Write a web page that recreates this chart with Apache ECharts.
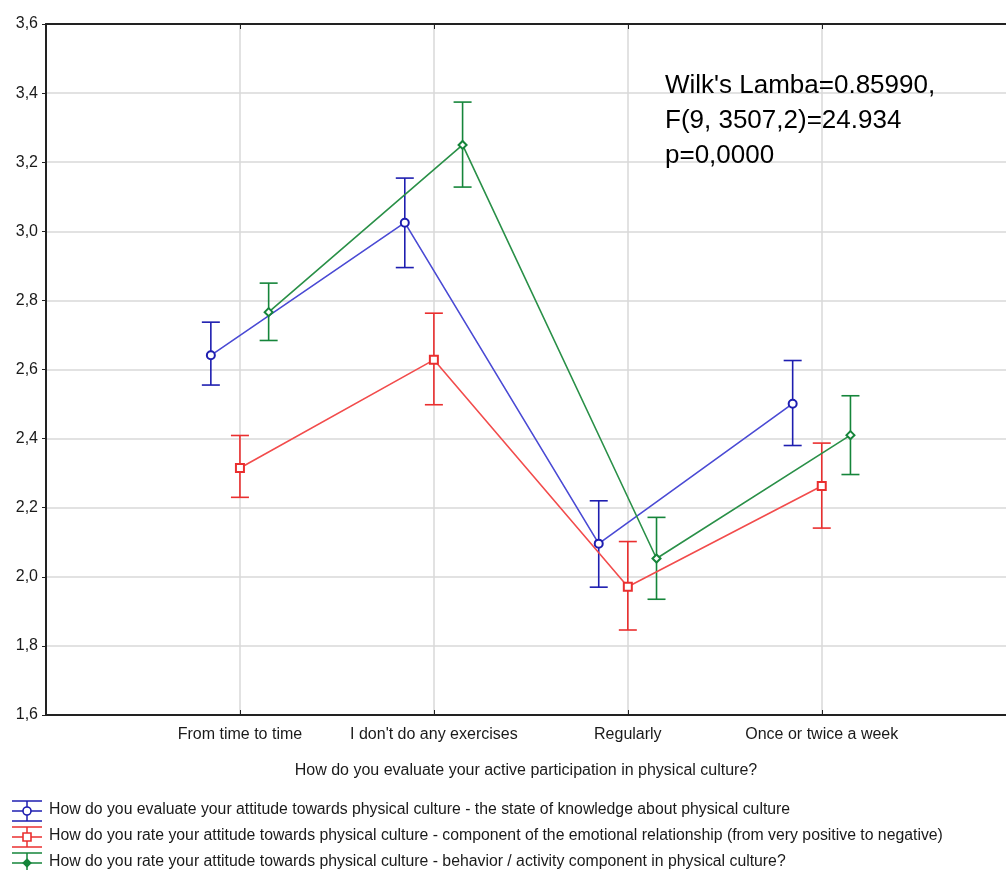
<!DOCTYPE html>
<html>
<head>
<meta charset="utf-8">
<script src="https://cdn.jsdelivr.net/npm/echarts@6/dist/echarts.min.js"></script>
<style>
html,body{margin:0;padding:0;background:#fff;}
#chart{width:1006px;height:870px;}
</style>
</head>
<body>
<div id="chart"></div>
<script>
const categories = ['From time to time', "I don't do any exercises", 'Regularly', 'Once or twice a week'];
const seriesNames = [
  'How do you evaluate your attitude towards physical culture - the state of knowledge about physical culture',
  'How do you rate your attitude towards physical culture - component of the emotional relationship (from very positive to negative)',
  'How do you rate your attitude towards physical culture - behavior / activity component in physical culture?'
];
const xAxisTitle = 'How do you evaluate your active participation in physical culture?';
const statsText = ["Wilk's Lamba=0.85990,", 'F(9, 3507,2)=24.934', 'p=0,0000'];

const knowledgeMean = [2.641, 3.025, 2.096, 2.501];
const knowledgeLow  = [2.555, 2.895, 1.970, 2.380];
const knowledgeHigh = [2.737, 3.154, 2.220, 2.626];

const emotionalMean = [2.315, 2.628, 1.971, 2.263];
const emotionalLow  = [2.230, 2.498, 1.846, 2.141];
const emotionalHigh = [2.409, 2.763, 2.102, 2.387];

const behaviorMean = [2.766, 3.250, 2.053, 2.410];
const behaviorLow  = [2.684, 3.128, 1.935, 2.296];
const behaviorHigh = [2.850, 3.374, 2.172, 2.524];

const yMin = 1.6, yMax = 3.6, yStep = 0.2;
const xMin = 0, xMax = 4.95;

const FONT = "'Liberation Sans', Arial, sans-serif";
const groups = [
  {name: seriesNames[0], mean: knowledgeMean, low: knowledgeLow, high: knowledgeHigh, off: -0.15,
   color: '#1e1eb0', lineColor: '#4a4ad4', symbol: 'emptyCircle', size: 8},
  {name: seriesNames[1], mean: emotionalMean, low: emotionalLow, high: emotionalHigh, off: 0,
   color: '#ea2f2f', lineColor: '#f24c4c', symbol: 'emptyRect', size: 8},
  {name: seriesNames[2], mean: behaviorMean, low: behaviorLow, high: behaviorHigh, off: 0.148,
   color: '#15853a', lineColor: '#2a9048', symbol: 'emptyDiamond', size: 8}
];

const series = [];
groups.forEach(g => {
  series.push({
    type: 'custom',
    name: g.name,
    data: categories.map((c, i) => [i + 1 + g.off, g.low[i], g.high[i]]),
    encode: {x: 0, y: [1, 2]},
    z: 3,
    renderItem: function (params, api) {
      const x = api.value(0);
      const pLo = api.coord([x, api.value(1)]);
      const pHi = api.coord([x, api.value(2)]);
      const w = 9;
      const st = {stroke: g.color, lineWidth: 1.6};
      return {type: 'group', children: [
        {type: 'line', shape: {x1: pLo[0], y1: pLo[1], x2: pHi[0], y2: pHi[1]}, style: st},
        {type: 'line', shape: {x1: pHi[0] - w, y1: pHi[1], x2: pHi[0] + w, y2: pHi[1]}, style: st},
        {type: 'line', shape: {x1: pLo[0] - w, y1: pLo[1], x2: pLo[0] + w, y2: pLo[1]}, style: st}
      ]};
    }
  });
  series.push({
    type: 'line',
    name: g.name,
    data: categories.map((c, i) => [i + 1 + g.off, g.mean[i]]),
    symbol: g.symbol,
    symbolSize: g.size,
    showAllSymbol: true,
    z: 4,
    lineStyle: {color: g.lineColor, width: 1.6},
    itemStyle: {color: g.color, borderColor: g.color, borderWidth: 1.6},
    emphasis: {disabled: true}
  });
});

// legend drawn as graphic rows
const legendGraphics = [];
groups.forEach((g, i) => {
  const yc = 811 + i * 26;
  const st = {stroke: g.color, lineWidth: 1.5};
  legendGraphics.push(
    {type: 'line', shape: {x1: 12, y1: yc - 10, x2: 42, y2: yc - 10}, style: st},
    {type: 'line', shape: {x1: 12, y1: yc, x2: 42, y2: yc}, style: st},
    {type: 'line', shape: {x1: 12, y1: yc + 10, x2: 42, y2: yc + 10}, style: st},
    {type: 'line', shape: {x1: 27, y1: yc - 10, x2: 27, y2: yc + 10}, style: st}
  );
  if (i === 0) {
    legendGraphics.push({type: 'circle', shape: {cx: 27, cy: yc, r: 4}, style: {fill: '#fff', stroke: g.color, lineWidth: 1.6}});
  } else if (i === 1) {
    legendGraphics.push({type: 'rect', shape: {x: 23, y: yc - 4, width: 8, height: 8}, style: {fill: '#fff', stroke: g.color, lineWidth: 1.6}});
  } else {
    legendGraphics.push({type: 'polygon', shape: {points: [[27, yc - 4], [31, yc], [27, yc + 4], [23, yc]]}, style: {fill: g.color, stroke: g.color, lineWidth: 1.2}});
  }
  legendGraphics.push({type: 'text', x: 49, y: yc - 1,
    style: {text: g.name, font: '15.8px ' + FONT, fill: '#1a1a1a', textVerticalAlign: 'middle'}});
});

const statsGraphics = statsText.map((t, i) => ({
  type: 'text', x: 665, y: 73 + i * 35, z: 10,
  style: {text: t, font: '26px ' + FONT, fill: '#000', textVerticalAlign: 'top'}
}));

const catFormatter = v => {
  const r = Math.round(v);
  return (Math.abs(v - r) < 1e-6 && r >= 1 && r <= categories.length) ? categories[r - 1] : '';
};

const chart = echarts.init(document.getElementById('chart'), null, {renderer: 'canvas'});
chart.setOption({
  animation: false,
  backgroundColor: '#ffffff',
  textStyle: {fontFamily: FONT},
  grid: {left: 46, top: 24, right: 0, height: 691, show: false},
  xAxis: [{
    type: 'value', min: xMin, max: xMax, interval: 1,
    axisLine: {lineStyle: {color: '#222', width: 2}},
    axisTick: {show: true, inside: true, length: 5, lineStyle: {color: '#222'}},
    splitLine: {show: true, showMaxLine: false, lineStyle: {color: '#d9d9d9', width: 1.5}},
    axisLabel: {
      fontSize: 16, color: '#1a1a1a', margin: 12, fontFamily: FONT,
      showMinLabel: true, showMaxLabel: false,
      formatter: catFormatter
    },
    name: xAxisTitle, nameLocation: 'middle', nameGap: 48,
    nameTextStyle: {fontSize: 16, color: '#1a1a1a', fontFamily: FONT}
  }, {
    type: 'value', position: 'top', min: xMin, max: xMax, interval: 1,
    axisLine: {show: true, lineStyle: {color: '#222', width: 2}},
    axisTick: {show: true, inside: true, length: 5, lineStyle: {color: '#222'}},
    splitLine: {show: false},
    axisLabel: {show: false}
  }],
  yAxis: {
    type: 'value', min: yMin, max: yMax, interval: yStep,
    axisLine: {show: true, lineStyle: {color: '#222', width: 2}},
    axisTick: {show: true, length: 4, lineStyle: {color: '#222'}},
    splitLine: {show: true, lineStyle: {color: '#d9d9d9', width: 1.5}},
    axisLabel: {fontSize: 16, color: '#1a1a1a', margin: 8, fontFamily: FONT,
      formatter: v => v.toFixed(1).replace('.', ',')}
  },
  series: series,
  graphic: legendGraphics.concat(statsGraphics)
});
</script>
</body>
</html>
